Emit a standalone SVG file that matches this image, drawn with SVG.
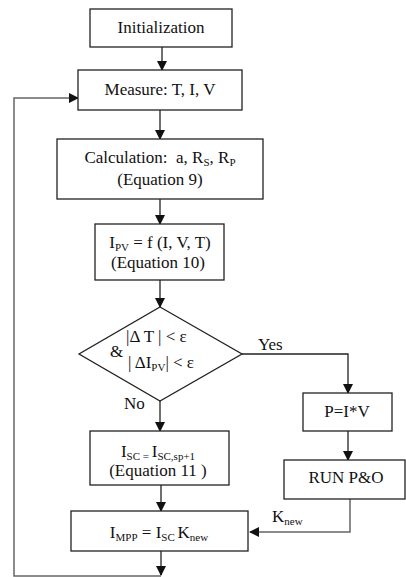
<svg xmlns="http://www.w3.org/2000/svg" width="406" height="577" viewBox="0 0 406 577">
<defs>
<marker id="ah" markerWidth="10" markerHeight="10" refX="9" refY="5" orient="auto" markerUnits="userSpaceOnUse">
<path d="M0,0 L10,5 L0,10 Z" fill="#111"/>
</marker>
<style>
.box{fill:#fff;stroke:#222;stroke-width:1.3}
.t{font-family:"Liberation Serif","Times New Roman",serif;font-size:17px;fill:#111}
.m{text-anchor:middle}
.s{font-size:11px}
.ln{fill:none;stroke:#222;stroke-width:1.3}
.lp{fill:none;stroke:#666;stroke-width:1.5}
</style>
</defs>
<rect width="406" height="577" fill="#fff"/>
<g id="connectors">
<line class="ln" x1="162" y1="47" x2="162" y2="70" marker-end="url(#ah)"/>
<line class="ln" x1="160" y1="110" x2="160" y2="139" marker-end="url(#ah)"/>
<line class="ln" x1="160" y1="199" x2="160" y2="224" marker-end="url(#ah)"/>
<line class="ln" x1="160" y1="280" x2="160" y2="307" marker-end="url(#ah)"/>
<polyline class="ln" points="242,354 348,354 348,393" marker-end="url(#ah)"/>
<line class="ln" x1="348" y1="431" x2="348" y2="460" marker-end="url(#ah)"/>
<polyline class="lp" points="350,499 350,532 250,532" marker-end="url(#ah)"/>
<line class="ln" x1="160" y1="401" x2="160" y2="431" marker-end="url(#ah)"/>
<line class="ln" x1="161" y1="485" x2="161" y2="511" marker-end="url(#ah)"/>
<line class="ln" x1="161" y1="551" x2="161" y2="575" marker-end="url(#ah)"/>
<polyline class="lp" points="161,576 14,576 14,98 78,98" marker-end="url(#ah)"/>
<text class="t" x="258" y="350">Yes</text>
<text class="t" x="124" y="409">No</text>
<text class="t" x="272" y="522">K<tspan class="s" dy="3">new</tspan></text>
</g>
<g id="init">
<rect class="box" x="90" y="9" width="142" height="38"/>
<text class="t m" x="161" y="33">Initialization</text>
</g>
<g id="measure">
<rect class="box" x="78" y="70" width="164" height="40"/>
<text class="t m" x="160" y="95">Measure: T, I, V</text>
</g>
<g id="calc">
<rect class="box" x="57" y="139" width="206" height="60"/>
<text class="t m" x="160" y="163">Calculation:&#160; a, R<tspan class="s" dy="3">S</tspan><tspan dy="-3">, R</tspan><tspan class="s" dy="3">P</tspan></text>
<text class="t m" x="160" y="185">(Equation 9)</text>
</g>
<g id="ipv">
<rect class="box" x="95" y="224" width="129" height="56"/>
<text class="t m" x="160" y="248">I<tspan class="s" dy="3">PV</tspan><tspan dy="-3"> = f (I, V, T)</tspan></text>
<text class="t m" x="158" y="268">(Equation 10)</text>
</g>
<g id="decision">
<polygon class="box" points="160,307 242,354 160,401 79,354"/>
<text class="t" x="126" y="342">|Δ T | &lt; ε</text>
<text class="t" x="110" y="357">&amp;</text>
<text class="t" x="128" y="368">| ΔI<tspan class="s" dy="3">PV</tspan><tspan dy="-3">| &lt; ε</tspan></text>
</g>
<g id="power">
<rect class="box" x="303" y="393" width="89" height="38"/>
<text class="t m" x="347" y="417">P=I*V</text>
</g>
<g id="po">
<rect class="box" x="284" y="460" width="121" height="39"/>
<text class="t m" x="346" y="483">RUN P&amp;O</text>
</g>
<g id="isc">
<rect class="box" x="90" y="431" width="139" height="54"/>
<text class="t m" x="158" y="457">I<tspan class="s" dy="3">SC = </tspan><tspan dy="-3">I</tspan><tspan class="s" dy="3">SC,sp+1</tspan></text>
<text class="t m" x="158" y="476">(Equation 11 )</text>
</g>
<g id="impp">
<rect class="box" x="71" y="511" width="177" height="40"/>
<text class="t m" x="159" y="538">I<tspan class="s" dy="3">MPP</tspan><tspan dy="-3"> = I</tspan><tspan class="s" dy="3">SC </tspan><tspan dy="-3">K</tspan><tspan class="s" dy="3">new</tspan></text>
</g>
</svg>
